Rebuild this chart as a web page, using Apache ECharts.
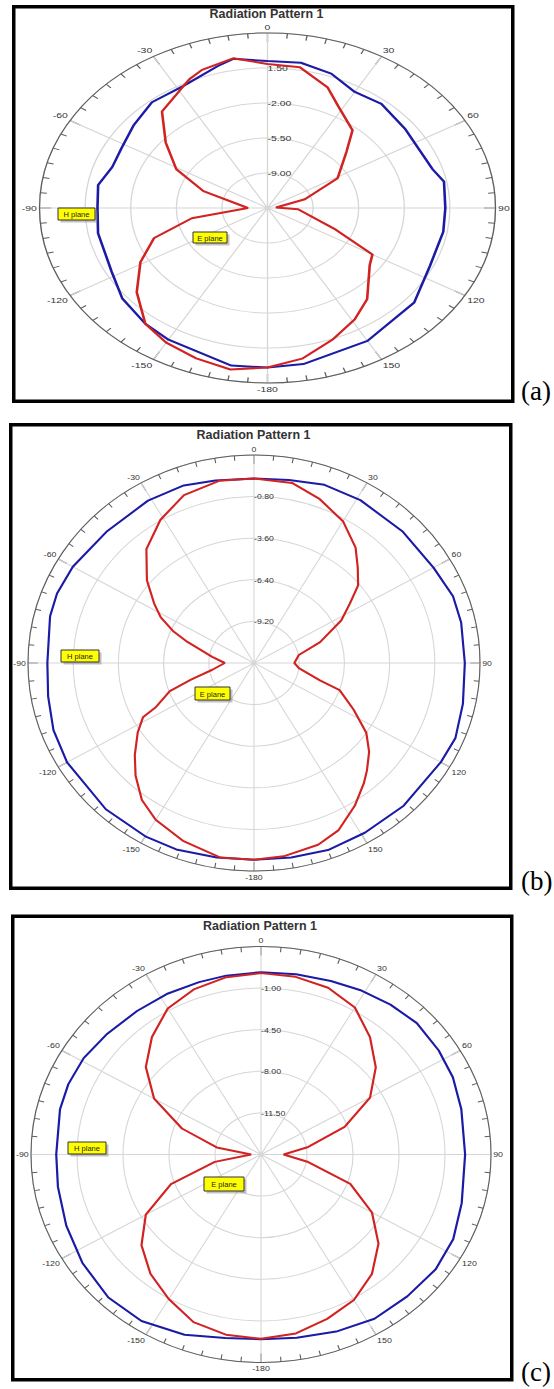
<!DOCTYPE html>
<html><head><meta charset="utf-8">
<script src="https://cdn.jsdelivr.net/npm/echarts@6/dist/echarts.min.js"></script>
<style>
html,body{margin:0;padding:0;background:#fff;}
body{width:554px;height:1389px;position:relative;overflow:hidden;}
.pc{position:absolute;transform-origin:0 0;}
#overlay{position:absolute;left:0;top:0;width:554px;height:1389px;pointer-events:none;}
</style></head><body>
<div id="pa" class="pc"></div><div id="pb" class="pc"></div><div id="pcc" class="pc"></div>
<div id="overlay"></div>
<script>
// ---------- DATA (angles in degrees, gains in dB) ----------
const titleText = 'Radiation Pattern 1';
const panelLetters = ['(a)', '(b)', '(c)'];
const seriesNames = ['H plane', 'E plane'];
const angleLabels = ['0','30','60','90','120','150','-180','-150','-120','-90','-60','-30'];

// (a)
const radialTicksA = [-12.5, -9.0, -5.5, -2.0, 1.5, 5.0];
const anglesEA = [-170,-160,-150,-141,-130,-119,-109,-100,-90,-71,-61,-50,-40,-25,-20,-10,0,10,21,28,40,47,61,73,86,93,112,120,126,140,149,159,170,180];
const gainEA   = [3.9,3.5,3.05,2.4,0.6,-1.35,-3.3,-6.6,-11.0,-7.3,-4.5,-2.3,0.1,1.7,2.2,2.7,1.9,1.8,0.4,-0.95,-2.35,-4.2,-6.35,-9.5,-11.85,-10.15,-7.0,-3.2,-2.8,-0.6,0.5,1.55,2.8,3.45];
const anglesHA = [-170,-150,-141,-129,-118,-101,-90,-80,-71,-62,-51,-40,-28,-15,-10,0,10,20,30,40,53,73,79,90,100,115,130,150,170,180];
const gainHA   = [3.5,2.7,2.4,1.85,1.05,0.75,0.55,0.7,0.1,0.2,0.7,1.3,1.3,2.2,2.65,2.2,2.25,1.8,0.9,1.1,0.7,0.75,1.3,1.15,1.2,1.25,2.2,2.85,3.35,3.45];

// (b)
const radialTicksB = [-12.0, -9.2, -6.4, -3.6, -0.8, 2.0];
const anglesEB = [-171,-160,-150,-143,-136,-130,-123,-118,-116,-110,-106,-100,-90,-81,-71,-67,-62,-57,-50,-41,-31,-21,-10,0,11,20,30,39,45,51,56,62,71,79,90,97,106,109,117,124,130,136,140,147,155,162,172,180];
const gainEB   = [1.26,0.76,0.18,-0.46,-1.44,-2.36,-3.41,-4.21,-5.25,-6.45,-7.94,-9.38,-10.19,-9.38,-7.64,-6.59,-5.46,-4.62,-3.34,-1.84,-0.75,0.1,0.45,0.42,0.35,-0.22,-0.98,-2.0,-2.91,-3.7,-4.83,-5.87,-7.67,-9.17,-9.5,-9.2,-7.75,-6.39,-5.07,-3.61,-2.69,-1.93,-1.42,-0.54,0.41,0.86,1.14,1.24];
const anglesHB = [-170,-159,-150,-137,-120,-110,-100,-90,-76,-69,-60,-46,-31,-20,-11,0,10,20,31,46,60,70,78,90,102,112,120,136,149,160,170,180];
const gainHB   = [1.29,1.44,1.47,1.46,1.37,1.22,0.95,0.8,1.02,1.07,0.96,0.71,0.75,0.72,0.52,0.41,0.5,0.76,0.79,0.77,0.84,1.12,1.12,1.06,1.23,1.46,1.36,1.35,1.33,1.4,1.29,1.24];

// (c)
const radialTicksC = [-15.0, -11.5, -8.0, -4.5, -1.0, 2.5];
const anglesEC = [-170,-160,-150,-140,-130,-120,-110,-100,-90,-80,-70,-60,-50,-40,-30,-20,-10,0,10,20,30,40,50,60,70,80,90,100,110,120,130,140,150,160,170,180];
const gainEC   = [0.39,0.01,-0.96,-1.91,-3.13,-4.88,-7.71,-11.43,-14.25,-11.58,-8.6,-5.61,-3.56,-2.09,-0.81,-0.19,0.15,0.26,0.18,-0.07,-0.72,-2.1,-3.6,-5.42,-8.23,-11.35,-13.28,-11.35,-7.77,-5.25,-3.33,-1.87,-0.86,-0.28,0.29,0.51];
const anglesHC = [-170,-159,-147,-136,-124,-112,-100,-90,-76,-68,-59,-49,-38,-28,-18,-10,0,10,20,29,38,47,57,66,76,90,105,116,126,137,148,159,170,180];
const gainHC   = [0.67,1.24,1.7,1.72,1.37,0.98,0.69,0.58,0.76,0.81,0.74,0.49,0.32,0.29,0.25,0.28,0.34,0.4,0.54,0.77,1.0,1.21,1.11,0.98,0.71,0.53,0.81,1.27,1.43,1.32,1.29,0.96,0.65,0.54];

// ---------- LAYOUT (page pixels) ----------
const layout = [
  {el:'pa', frame:[12,5,514.5,403], cx:267.5, cy:208, rx:228, ry:175, font:'"Liberation Sans Narrow","Liberation Sans",Arial,sans-serif',
   title:[266.5,14], hbox:[58,208,37,12], ebox:[193,232,34,11], letter:[521,391],
   ticks:radialTicksA, E:[anglesEA,gainEA], H:[anglesHA,gainHA]},
  {el:'pb', frame:[9,423,512.5,890], cx:254, cy:663, rx:226, ry:208, font:'"Liberation Sans",Arial,sans-serif',
   title:[253.5,435], hbox:[61,650,38,12], ebox:[195,687,35,13], letter:[521,881],
   ticks:radialTicksB, E:[anglesEB,gainEB], H:[anglesHB,gainHB]},
  {el:'pcc', frame:[11,914.5,513.5,1381.5], cx:261, cy:1154, rx:230, ry:208, font:'"Liberation Sans",Arial,sans-serif',
   title:[260,926], hbox:[68,1142,38,12], ebox:[204,1177,40,14], letter:[521,1372],
   ticks:radialTicksC, E:[anglesEC,gainEC], H:[anglesHC,gainHC]}
];

const RED = '#d22323', BLUE = '#1b1ba6', GRID = '#d6d6d6', RING = '#5e5e5e';
const r3 = x => Math.round(x * 1000) / 1000;

function buildPolar(L) {
  const el = document.getElementById(L.el);
  const sx = L.rx / L.ry;
  const left = L.frame[0], top = L.frame[1];
  const wPage = L.frame[2] - L.frame[0], h = L.frame[3] - L.frame[1];
  const w = wPage / sx;
  Object.assign(el.style, {left: left + 'px', top: top + 'px', width: w + 'px', height: h + 'px', transform: 'scaleX(' + sx + ')'});
  const chart = echarts.init(el, null, {renderer: 'svg', width: w, height: h});
  const min = L.ticks[0], span = r3(L.ticks[L.ticks.length - 1] - min), step = r3(L.ticks[1] - L.ticks[0]);
  const toData = (angs, gains) => {
    const pts = angs.map((a, i) => [r3(gains[i] - min), a < 0 ? a + 360 : a]).sort((p, q) => p[1] - q[1]);
    pts.push([pts[0][0], pts[0][1] + 360]);
    return pts;
  };
  chart.setOption({
    animation: false,
    polar: {center: [(L.cx - left) / sx, L.cy - top], radius: L.ry},
    angleAxis: {
      type: 'value', min: 0, max: 360, interval: 30, startAngle: 90, clockwise: true,
      axisLine: {show: true, lineStyle: {color: RING, width: 1}},
      axisTick: {show: true, inside: true, length: 9, lineStyle: {color: RING, width: 1}},
      minorTick: {show: true, splitNumber: 6, length: 5, lineStyle: {color: RING, width: 1}},
      axisLabel: {margin: 2, fontSize: 8, color: '#333', fontFamily: L.font,
        formatter: v => (v % 30 === 0 && v < 360) ? angleLabels[v / 30] : ''},
      splitLine: {show: true, lineStyle: {color: GRID, width: 1}}
    },
    radiusAxis: {
      type: 'value', min: 0, max: span, interval: step,
      axisLine: {show: false}, axisTick: {show: false},
      axisLabel: {margin: 0, align: 'left', verticalAlign: 'middle', fontSize: 8, color: '#333', fontFamily: L.font,
        formatter: v => (v < 1e-6 || v > span - 1e-6) ? '' : (v + min).toFixed(2)},
      splitLine: {show: true, lineStyle: {color: GRID, width: 1}}
    },
    series: [
      {name: seriesNames[0], type: 'line', coordinateSystem: 'polar', data: toData(L.H[0], L.H[1]),
       showSymbol: false, silent: true, lineStyle: {color: BLUE, width: 2}, itemStyle: {color: BLUE}, z: 3},
      {name: seriesNames[1], type: 'line', coordinateSystem: 'polar', data: toData(L.E[0], L.E[1]),
       showSymbol: false, silent: true, lineStyle: {color: RED, width: 2}, itemStyle: {color: RED}, z: 4}
    ]
  });
}
layout.forEach(buildPolar);

// ---------- overlay: frames, titles, plane tags, panel letters ----------
const ov = echarts.init(document.getElementById('overlay'), null, {renderer: 'svg', width: 554, height: 1389});
const g = [];
function tag(box, text) {
  const [x, y, w, h] = box;
  g.push({type: 'rect', shape: {x: x + 2.5, y: y + 2.5, width: w, height: h}, style: {fill: 'rgba(120,120,120,0.45)'}, z: 10});
  g.push({type: 'rect', shape: {x: x, y: y, width: w, height: h}, style: {fill: '#ffff00', stroke: '#333', lineWidth: 1}, z: 11});
  g.push({type: 'text', x: x + w / 2, y: y + h / 2 + 0.5, z: 12,
    style: {text: text, fontSize: 7.5, fontFamily: '"Liberation Sans",Arial,sans-serif', fill: '#222',
      textAlign: 'center', textVerticalAlign: 'middle', align: 'center', verticalAlign: 'middle'}});
}
layout.forEach((L, i) => {
  const f = L.frame;
  g.push({type: 'rect', shape: {x: f[0] + 1.75, y: f[1] + 1.75, width: f[2] - f[0] - 3.5, height: f[3] - f[1] - 3.5},
    style: {fill: 'none', stroke: '#000', lineWidth: 3.5}, z: 5});
  g.push({type: 'text', x: L.title[0], y: L.title[1], z: 6,
    style: {text: titleText, fontSize: 12.5, fontWeight: 'bold', fontFamily: '"Liberation Sans",Arial,sans-serif', fill: '#333',
      textAlign: 'center', textVerticalAlign: 'middle', align: 'center', verticalAlign: 'middle'}});
  tag(L.hbox, seriesNames[0]);
  tag(L.ebox, seriesNames[1]);
  g.push({type: 'text', x: L.letter[0], y: L.letter[1], z: 6,
    style: {text: panelLetters[i], fontSize: 27, fontFamily: '"Liberation Serif","Times New Roman",serif', fill: '#000',
      textAlign: 'left', textVerticalAlign: 'middle', align: 'left', verticalAlign: 'middle'}});
});
ov.setOption({animation: false, graphic: {elements: g}});
</script>
</body></html>
